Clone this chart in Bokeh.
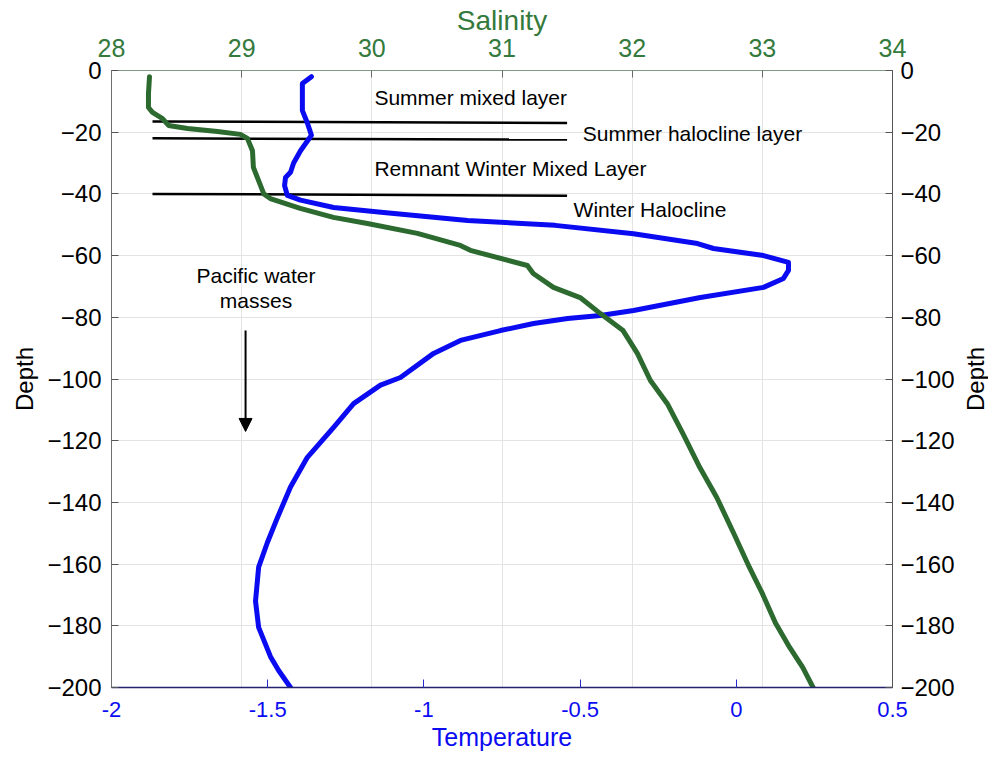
import math
from bokeh.plotting import figure
from bokeh.layouts import row
from bokeh.core.properties import value
from bokeh.models import (Range1d, LinearAxis, FixedTicker, Grid, Label, Arrow,
                          NormalHead, NumeralTickFormatter, Title)
from bokeh.embed import file_html
from bokeh.resources import INLINE

# ---------------- data ----------------
temp_depth = [-2, -4.2, -13, -17, -21, -26, -30, -33, -34.7, -37.3, -40.5,
              -42, -44.4, -46, -47.6, -48.6, -50.2, -52.9, -56.1, -57.7, -60,
              -62.2, -64.8, -67.4, -70.3, -73.6, -77.8, -79.4, -80.4, -82,
              -84.3, -87.5, -91.7, -99.5, -102, -108, -115.7, -125.4, -135,
              -145, -153, -161, -172, -180.5, -190, -194.5, -200]
temperature = [-1.360, -1.389, -1.389, -1.373, -1.360, -1.395, -1.417, -1.427,
               -1.443, -1.446, -1.437,
               -1.395, -1.289, -1.129, -0.969, -0.860, -0.580, -0.329, -0.124,
               -0.073, 0.087, 0.167, 0.167, 0.151, 0.087, -0.115, -0.329,
               -0.435, -0.540, -0.649, -0.755, -0.883, -0.969, -1.075, -1.139,
               -1.225, -1.289, -1.373, -1.427, -1.469, -1.501, -1.529, -1.539,
               -1.529, -1.491, -1.465, -1.427]

sal_depth = [-2, -7.5, -12, -13.6, -15.6, -17.8, -18.8, -19.8, -20.7, -22, -26,
             -31.4, -35.7, -40, -41.5, -44.7, -47.6, -49.6, -52.8, -56.7, -58.3,
             -63.2, -65.8, -70.3, -73.6, -78.8, -84.3, -91.7, -100.5, -108,
             -117.7, -128.7, -138.4, -150, -161, -169.5, -179, -187, -193.5, -200]
salinity = [28.292, 28.284, 28.284, 28.315, 28.392, 28.438, 28.584, 28.814,
            28.990, 29.044, 29.083, 29.090, 29.130, 29.170, 29.220, 29.450,
            29.705, 29.966, 30.350, 30.680, 30.757, 31.195, 31.240, 31.395,
            31.600, 31.756, 31.930, 32.040, 32.140, 32.270, 32.390, 32.520,
            32.650, 32.780, 32.900, 33.000, 33.100, 33.210, 33.310, 33.390]

# layer boundaries (salinity x-extent, depth at both ends)
layer_x = [28.315, 31.5]
layer_depths = [(-16.5, -17.0), (-22.0, -22.4), (-40.0, -40.6)]

layer_labels = ["Summer mixed layer", "Summer halocline layer",
                "Remnant Winter Mixed Layer", "Winter Halocline"]
layer_label_x = [30.02, 31.62, 30.02, 31.55]
layer_label_y = [-8.8, -20.5, -31.8, -45.2]

pacific_lines = ["Pacific water", "masses"]
pacific_x = 29.11
pacific_y = [-66.3, -74.4]
arrow_x = 29.03
arrow_depths = (-84.3, -117.0)

temp_ticks = [-2, -1.5, -1, -0.5, 0, 0.5]
sal_ticks = [28, 29, 30, 31, 32, 33, 34]
depth_ticks = [-200, -180, -160, -140, -120, -100, -80, -60, -40, -20, 0]

BLUE = "#0b0bf2"
GREEN = "#2c6a30"
GREEN_TXT = "#347a3c"
FONT = "Liberation Sans"

# ---------------- main figure ----------------
p = figure(width=962, height=758, x_range=Range1d(-2, 0.5),
           y_range=Range1d(-200, 0), output_backend="svg",
           toolbar_location=None, min_border_left=111, min_border_right=70,
           min_border_top=70, min_border_bottom=71)
p.extra_x_ranges = {"sal": Range1d(28, 34)}
p.outline_line_color = None
p.background_fill_color = "white"
p.border_fill_color = "white"

# bottom axis (temperature)
xa = p.xaxis[0]
xa.ticker = FixedTicker(ticks=temp_ticks)
xa.formatter = NumeralTickFormatter(format="0.[0]")
xa.axis_label = "Temperature"
xa.axis_label_text_color = BLUE
xa.axis_label_text_font = FONT
xa.axis_label_text_font_size = "25px"
xa.axis_label_text_font_style = "normal"
xa.axis_label_standoff = 3
xa.major_label_text_color = BLUE
xa.major_label_text_font = FONT
xa.major_label_text_font_size = "22px"
xa.major_label_standoff = 14
xa.axis_line_color = "#22226e"
xa.axis_line_width = 1.5
xa.major_tick_line_color = "#2a2ad0"
xa.major_tick_in = 8
xa.major_tick_out = 0
xa.minor_tick_line_color = None

# left axis (depth)
ya = p.yaxis[0]
ya.ticker = FixedTicker(ticks=depth_ticks)
ya.axis_label = "Depth"
ya.axis_label_text_font = FONT
ya.axis_label_text_font_size = "24px"
ya.axis_label_text_font_style = "normal"
ya.axis_label_text_color = "black"
ya.axis_label_standoff = 6
ya.major_label_text_font = FONT
ya.major_label_text_font_size = "24px"
ya.major_label_text_color = "black"
ya.major_label_standoff = 10
ya.axis_line_color = "#6e6e6e"
ya.major_tick_line_color = "#555555"
ya.major_tick_in = 7
ya.major_tick_out = 0
ya.minor_tick_line_color = None

# top axis (salinity)
ta = LinearAxis(x_range_name="sal", ticker=FixedTicker(ticks=sal_ticks))
ta.major_label_text_font = FONT
ta.major_label_text_font_size = "25px"
ta.major_label_text_color = GREEN_TXT
ta.major_label_standoff = 14
ta.axis_line_color = "#7f9a86"
ta.major_tick_line_color = "#6a6a6a"
ta.major_tick_in = 7
ta.major_tick_out = 0
ta.minor_tick_line_color = None
p.add_layout(ta, "above")

# right axis (depth)
ra = LinearAxis(ticker=FixedTicker(ticks=depth_ticks))
ra.major_label_text_font = FONT
ra.major_label_text_font_size = "24px"
ra.major_label_text_color = "black"
ra.major_label_standoff = 8
ra.axis_line_color = "#555555"
ra.major_tick_line_color = "#555555"
ra.major_tick_in = 7
ra.major_tick_out = 0
ra.minor_tick_line_color = None
p.add_layout(ra, "right")

# salinity title above the top axis
p.add_layout(Title(text="Salinity", text_font=FONT, text_font_size="28px",
                   text_color=GREEN_TXT, text_font_style="normal",
                   align="center", standoff=0), "above")

# grids
p.xgrid.visible = False
p.add_layout(Grid(dimension=0, ticker=FixedTicker(ticks=sal_ticks),
                  x_range_name="sal", grid_line_color="#e3e3e3",
                  grid_line_width=1))
p.ygrid.ticker = FixedTicker(ticks=depth_ticks)
p.ygrid.grid_line_color = "#e3e3e3"

# layer boundary lines
for d0, d1 in layer_depths:
    p.line(layer_x, [d0, d1], x_range_name="sal", line_color="black",
           line_width=2.5)

# profiles
p.line(temperature, temp_depth, line_color=BLUE, line_width=5,
       line_join="round", line_cap="round")
p.line(salinity, sal_depth, x_range_name="sal", line_color=GREEN,
       line_width=5, line_join="round", line_cap="round")

# annotations
for txt, x, y in zip(layer_labels, layer_label_x, layer_label_y):
    p.add_layout(Label(x=x, y=y, x_range_name="sal", text=txt,
                       text_font=FONT, text_font_size="21px",
                       text_color="black", text_baseline="middle",
                       text_align="left"))
for txt, y in zip(pacific_lines, pacific_y):
    p.add_layout(Label(x=pacific_x, y=y, x_range_name="sal", text=txt,
                       text_font=FONT, text_font_size="21px",
                       text_color="black", text_baseline="middle",
                       text_align="center"))
p.add_layout(Arrow(end=NormalHead(size=13, fill_color="black",
                                  line_color="black"),
                   x_start=arrow_x, y_start=arrow_depths[0],
                   x_end=arrow_x, y_end=arrow_depths[1],
                   x_range_name="sal", line_color="black", line_width=2))

# ---------------- right-hand "Depth" label strip ----------------
side = figure(width=26, height=758, x_range=Range1d(0, 1),
              y_range=Range1d(-200, 0), output_backend="svg",
              toolbar_location=None, x_axis_location=None,
              y_axis_location=None, min_border=0)
side.min_border_top = 70
side.min_border_bottom = 71
side.outline_line_color = None
side.grid.visible = False
side.background_fill_color = "white"
side.border_fill_color = "white"
side.text(x=[0.5], y=[-100], text=["Depth"], angle=math.pi / 2,
          text_font=value(FONT), text_font_size="24px", text_color="black",
          text_align="center", text_baseline="middle")

layout = row(p, side, spacing=0)
open("out.html", "w").write(file_html(layout, INLINE))
